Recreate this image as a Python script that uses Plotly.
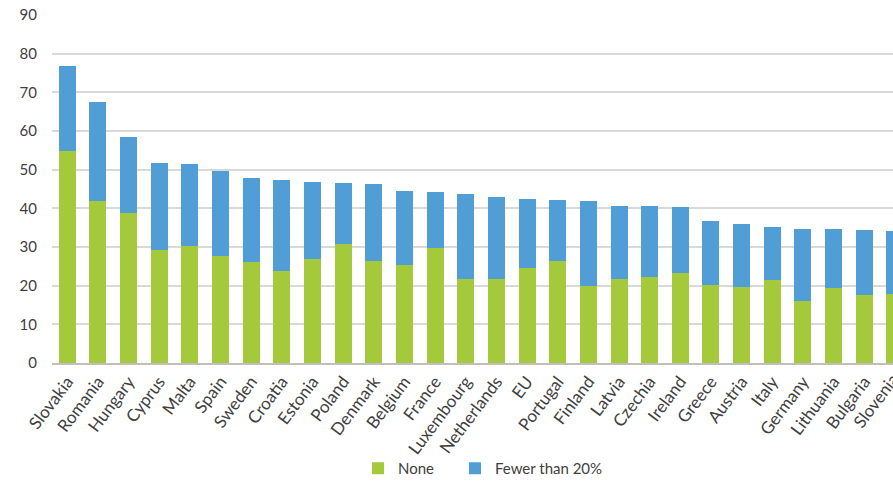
import plotly.graph_objects as go

countries = ["Slovakia", "Romania", "Hungary", "Cyprus", "Malta", "Spain", "Sweden",
             "Croatia", "Estonia", "Poland", "Denmark", "Belgium", "France",
             "Luxembourg", "Netherlands", "EU", "Portugal", "Finland", "Latvia",
             "Czechia", "Ireland", "Greece", "Austria", "Italy", "Germany",
             "Lithuania", "Bulgaria", "Slovenia"]
none_share = [54.9, 41.9, 38.7, 29.2, 30.2, 27.8, 26.0, 23.8, 27.0, 30.8, 26.3, 25.4,
              29.7, 21.8, 21.7, 24.5, 26.3, 20.0, 21.8, 22.2, 23.2, 20.3, 19.7, 21.4,
              16.1, 19.5, 17.7, 17.8]
total_share = [76.7, 67.4, 58.5, 51.7, 51.5, 49.7, 47.8, 47.2, 46.9, 46.6, 46.2, 44.5,
               44.3, 43.6, 42.9, 42.5, 42.2, 41.9, 40.7, 40.5, 40.4, 36.7, 36.0, 35.2,
               34.7, 34.6, 34.3, 34.2]
fewer_share = [round(t - n, 1) for t, n in zip(total_share, none_share)]

y_ticks = [0, 10, 20, 30, 40, 50, 60, 70, 80, 90]

GREEN = "#A4C93A"
BLUE = "#519DD6"
TEXT = "#404040"
FONT = "Lato, Open Sans, sans-serif"
XFONT = 17
X_END = 26.94  # the axis stops partway through the last bar

fig = go.Figure()
fig.add_trace(go.Bar(x=countries, y=none_share, name="None", marker_color=GREEN,
                     marker_line_width=0, legend="legend"))
fig.add_trace(go.Bar(x=countries, y=fewer_share, name="Fewer than 20%", marker_color=BLUE,
                     marker_line_width=0, legend="legend2"))

# the last category's tick sits just past the axis end, so its label is placed by hand
last = len(countries) - 1
fig.add_annotation(text=countries[last], textangle=-53, showarrow=False,
                   xref="paper", yref="paper",
                   x=(last - (-0.5)) / (X_END + 0.5), y=0,
                   xanchor="right", yanchor="top", xshift=11, yshift=-4,
                   font=dict(size=XFONT, color=TEXT, family=FONT))

legend_common = dict(orientation="h", xanchor="left", xref="container",
                     y=0.0, yanchor="bottom", yref="container",
                     font=dict(size=15, color=TEXT, family=FONT), itemwidth=30,
                     bgcolor="rgba(0,0,0,0)")

fig.update_layout(
    width=893, height=485,
    barmode="stack", bargap=0.445,
    plot_bgcolor="white", paper_bgcolor="white",
    margin=dict(l=52, r=0, t=15, b=122),
    font=dict(family=FONT, size=14, color=TEXT),
    showlegend=True,
    legend=dict(x=358 / 893, **legend_common),
    legend2=dict(x=455 / 893, **legend_common),
    xaxis=dict(range=[-0.5, X_END], tickangle=-53, showgrid=False, automargin=False,
               showline=True, linecolor="#BFBFBF", linewidth=2,
               ticks="", tickfont=dict(size=XFONT, color=TEXT)),
    yaxis=dict(range=[0, 90], tickvals=y_ticks, showgrid=True, automargin=False,
               gridcolor="#D9D9D9", gridwidth=2, zeroline=False,
               showline=False, ticks="", ticklabelstandoff=14,
               tickfont=dict(size=15, color=TEXT)),
)

fig.write_html("out.html")
